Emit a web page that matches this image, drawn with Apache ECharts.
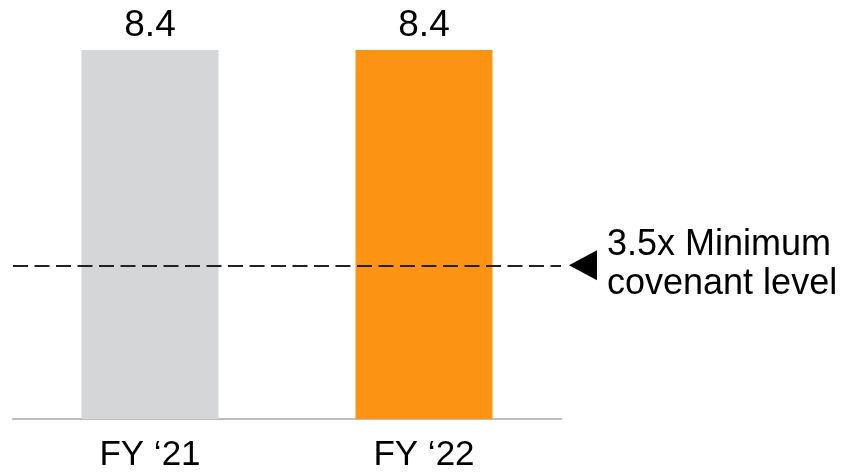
<!DOCTYPE html>
<html><head><meta charset="utf-8">
<script src="https://cdn.jsdelivr.net/npm/echarts@6/dist/echarts.min.js"></script>
<style>html,body{margin:0;padding:0;background:#fff}#c{width:846px;height:473px}</style>
</head><body><div id="c"></div>
<script>
const categories = ['FY \u201821', 'FY \u201822'];
const values = [8.4, 8.4];
const barColors = ['#d5d6d8', '#fd9312'];
const covenantLevel = 3.5;
const covenantLabel = ['3.5x Minimum', 'covenant level'];

const chart = echarts.init(document.getElementById('c'), null, {renderer: 'canvas'});
const FONT = 'Liberation Sans, Arial, Helvetica, sans-serif';
chart.setOption({
  animation: false,
  grid: {left: 13, right: 285, top: 50, bottom: 54},
  xAxis: {
    type: 'category', data: categories,
    axisLine: {lineStyle: {color: '#bdbdbd', width: 2}},
    axisTick: {show: false},
    axisLabel: {color: '#000', fontSize: 35, fontFamily: FONT, margin: 19}
  },
  yAxis: {type: 'value', min: 0, max: 8.4, show: false, splitLine: {show: false}},
  series: [{
    type: 'bar', barWidth: '50%',
    data: values.map((v, i) => ({value: v, itemStyle: {color: barColors[i]}})),
    label: {show: true, position: 'top', color: '#000', fontSize: 37, fontFamily: FONT, distance: 6},
    markLine: {
      silent: true, symbol: ['none', 'none'],
      lineStyle: {type: [15, 6.5], color: '#222', width: 2},
      label: {show: false},
      data: [{yAxis: covenantLevel}]
    }
  }]
});
const y = chart.convertToPixel({yAxisIndex: 0}, covenantLevel);
const xEnd = chart.convertToPixel({xAxisIndex: 0}, categories[1]) + 137;
chart.setOption({
  graphic: [
    {type: 'polygon', shape: {points: [[xEnd + 8, y], [xEnd + 36, y - 15], [xEnd + 36, y + 15]]}, style: {fill: '#000'}},
    {type: 'text', left: xEnd + 46, top: y - 40, style: {text: covenantLabel.join('\n'), font: '36px ' + FONT, fill: '#000', lineHeight: 39}}
  ]
});
</script></body></html>
